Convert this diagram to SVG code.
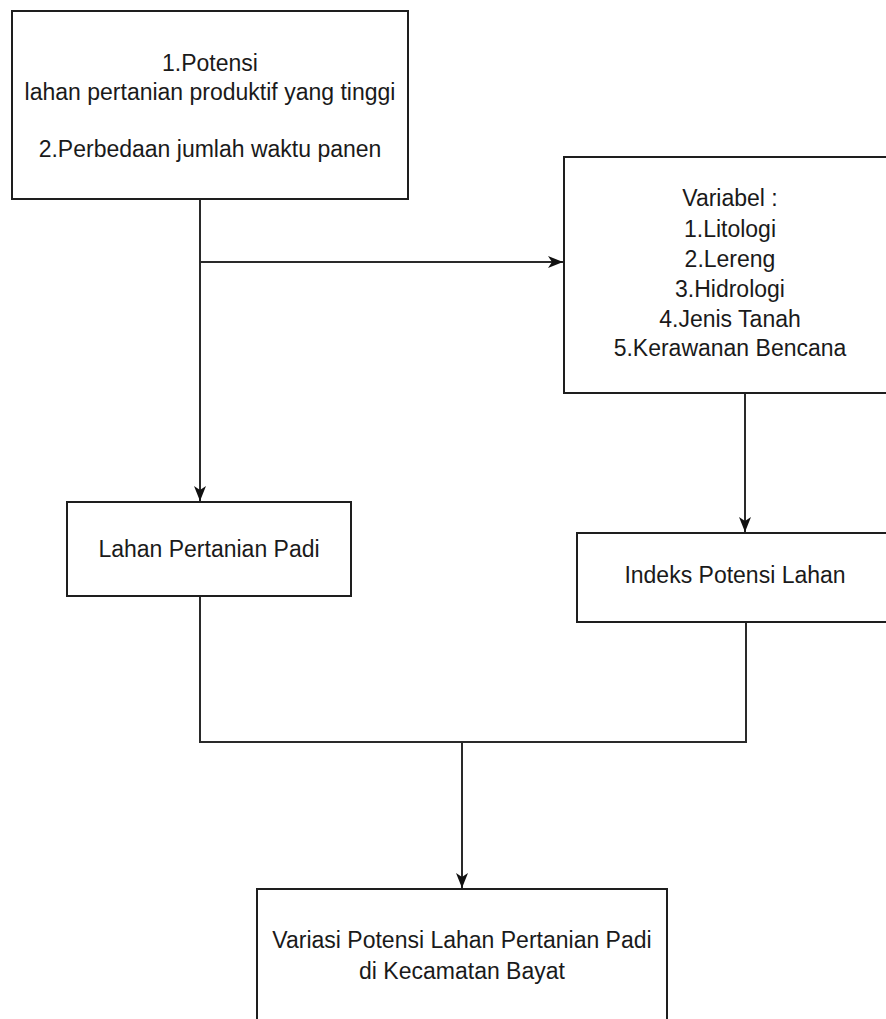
<svg xmlns="http://www.w3.org/2000/svg" width="886" height="1019" viewBox="0 0 886 1019">
<style>
.box{fill:#ffffff;stroke:#1e1e1e;stroke-width:2}
.lbl{font-family:"Liberation Sans",Arial,sans-serif;font-size:23px;fill:#1a1a1a;text-anchor:middle}
.con{fill:none;stroke:#2a2a2a;stroke-width:2}
</style>
<defs>
<marker id="arr" viewBox="0 0 15 12" refX="15" refY="6" markerWidth="15" markerHeight="12" markerUnits="userSpaceOnUse" orient="auto">
<path d="M0,0 L15,6 L0,12 L4,6 Z" fill="#111111"/>
</marker>
</defs>
<rect width="886" height="1019" fill="#ffffff"/>
<g id="connectors">
<line class="con" x1="200" y1="199" x2="200" y2="501" marker-end="url(#arr)"/>
<line class="con" x1="200" y1="262" x2="563" y2="262" marker-end="url(#arr)"/>
<line class="con" x1="745" y1="393" x2="745" y2="532" marker-end="url(#arr)"/>
<polyline class="con" points="200,596 200,742 746,742 746,622"/>
<line class="con" x1="462" y1="742" x2="462" y2="888" marker-end="url(#arr)"/>
</g>
<g id="node-potensi">
<rect class="box" x="12" y="11" width="396" height="188"/>
<text class="lbl" x="210" y="71">1.Potensi</text>
<text class="lbl" x="210" y="100">lahan pertanian produktif yang tinggi</text>
<text class="lbl" x="210" y="157">2.Perbedaan jumlah waktu panen</text>
</g>
<g id="node-variabel">
<rect class="box" x="564" y="157" width="340" height="236"/>
<text class="lbl" x="730" y="206">Variabel :</text>
<text class="lbl" x="730" y="237">1.Litologi</text>
<text class="lbl" x="730" y="267">2.Lereng</text>
<text class="lbl" x="730" y="297">3.Hidrologi</text>
<text class="lbl" x="730" y="327">4.Jenis Tanah</text>
<text class="lbl" x="730" y="356">5.Kerawanan Bencana</text>
</g>
<g id="node-lahan">
<rect class="box" x="67" y="502" width="284" height="94"/>
<text class="lbl" x="209" y="557">Lahan Pertanian Padi</text>
</g>
<g id="node-indeks">
<rect class="box" x="577" y="533" width="330" height="89"/>
<text class="lbl" x="735" y="583">Indeks Potensi Lahan</text>
</g>
<g id="node-variasi">
<rect class="box" x="257" y="889" width="410" height="150"/>
<text class="lbl" x="462" y="948">Variasi Potensi Lahan Pertanian Padi</text>
<text class="lbl" x="462" y="979">di Kecamatan Bayat</text>
</g>
</svg>
